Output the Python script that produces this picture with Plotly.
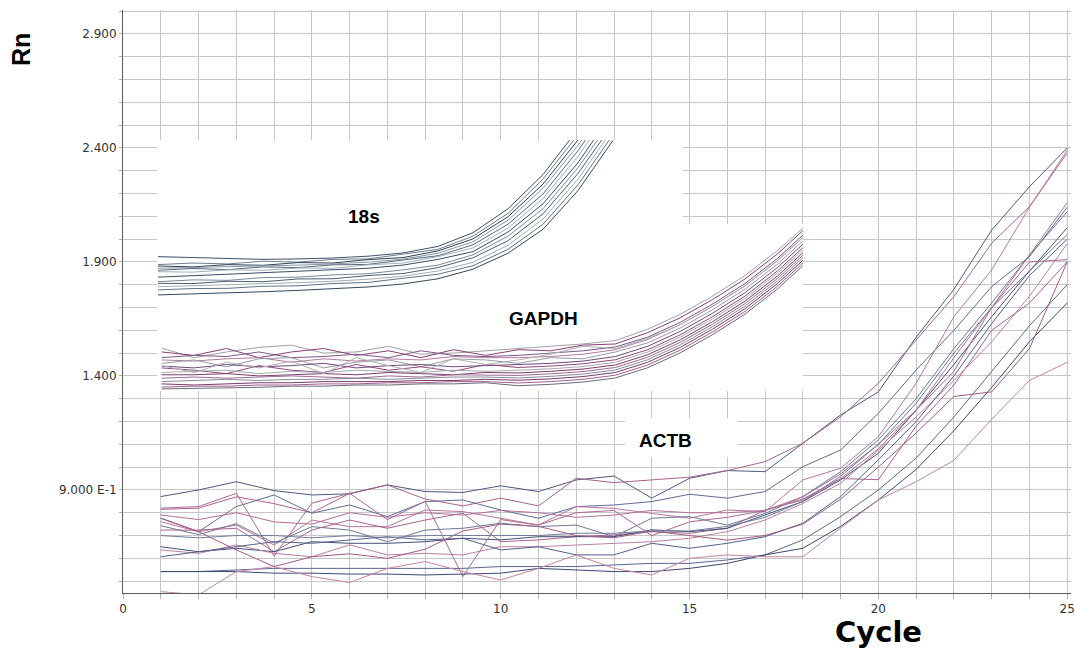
import plotly.graph_objects as go

# ---------------- data ----------------
cycles_actb = list(range(1, 26))
cycles_18s = list(range(1, 15))
cycles_gapdh = list(range(1, 22))

x_tick_labels = ["0", "5", "10", "15", "20", "25"]
y_tick_values = [0.9, 1.4, 1.9, 2.4, 2.9]
y_tick_labels = ["9.000 E-1", "1.400", "1.900", "2.400", "2.900"]

actb_1 = [0.871, 0.900, 0.936, 0.897, 0.878, 0.883, 0.922, 0.893, 0.889, 0.918, 0.893, 0.944, 0.961, 0.864, 0.951, 0.985, 0.980, 1.105, 1.229, 1.330, 1.570, 1.780, 2.040, 2.230, 2.400]
actb_2 = [0.815, 0.820, 0.870, 0.840, 0.800, 0.885, 0.922, 0.860, 0.830, 0.864, 0.830, 0.951, 0.932, 0.944, 0.956, 0.985, 1.024, 1.105, 1.221, 1.368, 1.558, 1.748, 1.982, 2.143, 2.378]
actb_3 = [0.776, 0.717, 0.827, 0.878, 0.798, 0.834, 0.783, 0.849, 0.856, 0.812, 0.776, 0.827, 0.834, 0.849, 0.881, 0.864, 0.893, 1.002, 1.075, 1.236, 1.426, 1.600, 1.792, 1.923, 2.140]
actb_4 = [0.761, 0.717, 0.746, 0.658, 0.768, 0.739, 0.739, 0.812, 0.805, 0.776, 0.746, 0.827, 0.819, 0.797, 0.776, 0.812, 0.805, 0.944, 0.995, 1.134, 1.368, 1.660, 1.865, 2.140, 2.390]
actb_5 = [0.743, 0.704, 0.752, 0.667, 0.739, 0.724, 0.673, 0.724, 0.732, 0.754, 0.739, 0.746, 0.695, 0.776, 0.783, 0.746, 0.797, 0.871, 0.980, 1.120, 1.300, 1.520, 1.720, 1.930, 2.120]
actb_6 = [0.724, 0.724, 0.732, 0.629, 0.724, 0.768, 0.732, 0.768, 0.798, 0.673, 0.681, 0.695, 0.703, 0.717, 0.710, 0.732, 0.812, 0.856, 0.950, 0.945, 1.180, 1.360, 1.600, 1.720, 1.900]
actb_7 = [0.651, 0.629, 0.644, 0.629, 0.673, 0.666, 0.666, 0.673, 0.688, 0.681, 0.695, 0.695, 0.695, 0.725, 0.717, 0.732, 0.790, 0.849, 0.944, 1.061, 1.250, 1.450, 1.660, 1.860, 2.050]
actb_8 = [0.637, 0.622, 0.659, 0.622, 0.607, 0.659, 0.615, 0.622, 0.615, 0.651, 0.651, 0.659, 0.666, 0.673, 0.688, 0.717, 0.768, 0.841, 0.929, 1.075, 1.220, 1.380, 1.550, 1.750, 1.980]
actb_9 = [0.607, 0.629, 0.651, 0.673, 0.666, 0.681, 0.695, 0.681, 0.688, 0.637, 0.651, 0.615, 0.615, 0.666, 0.644, 0.666, 0.695, 0.754, 0.871, 1.032, 1.200, 1.400, 1.630, 1.840, 2.000]
actb_10 = [0.820, 0.827, 0.885, 0.610, 0.842, 0.885, 0.770, 0.850, 0.520, 0.770, 0.746, 0.800, 0.810, 0.700, 0.760, 0.780, 0.810, 0.870, 0.970, 1.100, 1.250, 1.420, 1.700, 1.900, 1.910]
actb_11 = [0.542, 0.542, 0.549, 0.556, 0.556, 0.556, 0.556, 0.556, 0.556, 0.564, 0.564, 0.564, 0.571, 0.578, 0.578, 0.593, 0.615, 0.681, 0.783, 0.900, 1.040, 1.220, 1.420, 1.620, 1.800]
actb_12 = [0.542, 0.542, 0.542, 0.535, 0.535, 0.531, 0.531, 0.527, 0.531, 0.535, 0.556, 0.549, 0.542, 0.542, 0.556, 0.578, 0.615, 0.644, 0.740, 0.856, 0.990, 1.160, 1.350, 1.550, 1.720]
actb_13 = [0.454, 0.440, 0.542, 0.564, 0.520, 0.494, 0.556, 0.586, 0.542, 0.505, 0.556, 0.615, 0.556, 0.527, 0.600, 0.615, 0.607, 0.607, 0.733, 0.856, 0.936, 1.030, 1.210, 1.380, 1.460]
actb_14 = [0.776, 0.717, 0.637, 0.564, 0.607, 0.620, 0.600, 0.640, 0.720, 0.750, 0.740, 0.700, 0.690, 0.720, 0.700, 0.680, 0.700, 0.750, 0.860, 1.000, 1.150, 1.310, 1.330, 1.520, 1.900]
actb_15 = [0.700, 0.690, 0.700, 0.700, 0.690, 0.700, 0.690, 0.700, 0.700, 0.700, 0.700, 0.710, 0.710, 0.720, 0.720, 0.740, 0.780, 0.850, 0.960, 1.100, 1.280, 1.500, 1.700, 1.860, 2.020]
actb_16 = [0.790, 0.770, 0.800, 0.760, 0.750, 0.800, 0.780, 0.800, 0.790, 0.810, 0.800, 0.780, 0.790, 0.810, 0.800, 0.800, 0.810, 0.860, 0.950, 1.080, 1.250, 1.480, 1.700, 1.930, 2.160]

s18_1 = [0.940, 0.935, 0.930, 0.928, 0.930, 0.934, 0.942, 0.956, 0.985, 1.045, 1.150, 1.300, 1.500, 1.720]
s18_2 = [0.905, 0.912, 0.908, 0.920, 0.916, 0.928, 0.930, 0.950, 0.972, 1.030, 1.130, 1.280, 1.475, 1.700]
s18_3 = [0.899, 0.895, 0.905, 0.902, 0.914, 0.912, 0.927, 0.936, 0.965, 1.018, 1.115, 1.258, 1.452, 1.672]
s18_4 = [0.889, 0.892, 0.896, 0.899, 0.903, 0.908, 0.916, 0.929, 0.955, 1.005, 1.100, 1.240, 1.428, 1.650]
s18_5 = [0.880, 0.888, 0.883, 0.895, 0.892, 0.904, 0.906, 0.924, 0.944, 0.992, 1.082, 1.215, 1.405, 1.625]
s18_6 = [0.874, 0.872, 0.882, 0.880, 0.890, 0.889, 0.904, 0.912, 0.940, 0.978, 1.065, 1.195, 1.380, 1.600]
s18_7 = [0.850, 0.856, 0.862, 0.868, 0.874, 0.880, 0.889, 0.903, 0.928, 0.962, 1.048, 1.172, 1.352, 1.575]
s18_8 = [0.830, 0.838, 0.836, 0.848, 0.850, 0.860, 0.865, 0.882, 0.903, 0.948, 1.030, 1.150, 1.330, 1.548]
s18_9 = [0.823, 0.822, 0.832, 0.830, 0.842, 0.843, 0.857, 0.866, 0.892, 0.935, 1.010, 1.128, 1.305, 1.522]
s18_10 = [0.808, 0.812, 0.816, 0.821, 0.826, 0.832, 0.841, 0.854, 0.877, 0.915, 0.990, 1.105, 1.280, 1.500]
s18_11 = [0.794, 0.800, 0.801, 0.810, 0.812, 0.822, 0.827, 0.844, 0.863, 0.900, 0.972, 1.082, 1.255, 1.475]
s18_12 = [0.772, 0.776, 0.781, 0.786, 0.792, 0.798, 0.807, 0.820, 0.843, 0.885, 0.955, 1.060, 1.230, 1.450]

gapdh_1 = [0.947, 0.905, 0.930, 0.950, 0.960, 0.925, 0.930, 0.955, 0.920, 0.925, 0.935, 0.945, 0.955, 0.965, 0.980, 1.030, 1.095, 1.175, 1.265, 1.375, 1.500]
gapdh_2 = [0.930, 0.915, 0.945, 0.905, 0.930, 0.945, 0.915, 0.935, 0.905, 0.940, 0.915, 0.940, 0.935, 0.960, 0.965, 1.015, 1.080, 1.160, 1.250, 1.360, 1.490]
gapdh_3 = [0.905, 0.915, 0.910, 0.930, 0.905, 0.910, 0.920, 0.905, 0.935, 0.915, 0.910, 0.915, 0.925, 0.935, 0.952, 0.995, 1.060, 1.140, 1.230, 1.340, 1.470]
gapdh_4 = [0.895, 0.890, 0.900, 0.905, 0.885, 0.900, 0.890, 0.900, 0.895, 0.910, 0.905, 0.905, 0.910, 0.920, 0.940, 0.985, 1.050, 1.130, 1.220, 1.330, 1.460]
gapdh_5 = [0.880, 0.895, 0.865, 0.900, 0.905, 0.860, 0.885, 0.895, 0.865, 0.900, 0.895, 0.880, 0.905, 0.900, 0.930, 0.970, 1.035, 1.115, 1.205, 1.315, 1.445]
gapdh_6 = [0.868, 0.860, 0.875, 0.865, 0.870, 0.880, 0.860, 0.870, 0.875, 0.865, 0.870, 0.875, 0.880, 0.890, 0.910, 0.955, 1.020, 1.100, 1.190, 1.300, 1.430]
gapdh_7 = [0.860, 0.850, 0.835, 0.870, 0.850, 0.840, 0.875, 0.850, 0.865, 0.845, 0.875, 0.862, 0.868, 0.878, 0.896, 0.940, 1.005, 1.085, 1.175, 1.285, 1.415]
gapdh_8 = [0.840, 0.845, 0.850, 0.835, 0.845, 0.840, 0.850, 0.845, 0.840, 0.850, 0.845, 0.850, 0.856, 0.866, 0.885, 0.930, 0.995, 1.075, 1.165, 1.275, 1.405]
gapdh_9 = [0.830, 0.830, 0.835, 0.825, 0.830, 0.835, 0.830, 0.840, 0.835, 0.830, 0.840, 0.838, 0.845, 0.855, 0.873, 0.918, 0.983, 1.063, 1.153, 1.263, 1.393]
gapdh_10 = [0.815, 0.820, 0.815, 0.820, 0.825, 0.820, 0.815, 0.825, 0.820, 0.830, 0.830, 0.827, 0.834, 0.844, 0.862, 0.907, 0.972, 1.052, 1.142, 1.252, 1.382]
gapdh_11 = [0.800, 0.805, 0.810, 0.805, 0.810, 0.810, 0.815, 0.810, 0.815, 0.820, 0.820, 0.816, 0.823, 0.833, 0.851, 0.896, 0.961, 1.041, 1.131, 1.241, 1.371]
gapdh_12 = [0.790, 0.785, 0.790, 0.795, 0.795, 0.800, 0.800, 0.800, 0.805, 0.805, 0.810, 0.806, 0.812, 0.822, 0.840, 0.885, 0.950, 1.030, 1.120, 1.230, 1.360]
gapdh_13 = [0.776, 0.780, 0.780, 0.785, 0.785, 0.790, 0.790, 0.795, 0.795, 0.800, 0.800, 0.794, 0.800, 0.810, 0.828, 0.873, 0.938, 1.018, 1.108, 1.218, 1.348]
gapdh_14 = [0.768, 0.770, 0.775, 0.775, 0.780, 0.780, 0.785, 0.785, 0.790, 0.790, 0.795, 0.782, 0.788, 0.798, 0.816, 0.861, 0.926, 1.006, 1.096, 1.206, 1.336]
gapdh_15 = [0.870, 0.840, 0.885, 0.860, 0.890, 0.835, 0.905, 0.870, 0.840, 0.900, 0.875, 0.895, 0.920, 0.955, 0.945, 0.990, 1.050, 1.130, 1.220, 1.330, 1.460]

actb_series = [actb_1, actb_2, actb_3, actb_4, actb_5, actb_6, actb_7, actb_8,
               actb_9, actb_10, actb_11, actb_12, actb_13, actb_14, actb_15, actb_16]
s18_series = [s18_1, s18_2, s18_3, s18_4, s18_5, s18_6, s18_7, s18_8, s18_9, s18_10, s18_11, s18_12]
gapdh_series = [gapdh_1, gapdh_2, gapdh_3, gapdh_4, gapdh_5, gapdh_6, gapdh_7, gapdh_8,
                gapdh_9, gapdh_10, gapdh_11, gapdh_12, gapdh_13, gapdh_14, gapdh_15]

# ---------------- styles ----------------
actb_colors = ["#4e5a80", "#ac6290", "#5f6d93", "#b8749c", "#6e7898", "#a8628f", "#434f76", "#bb80a4",
               "#54618a", "#ad6893", "#5b678e", "#3c4870", "#c484a8", "#a25c8a", "#707c9b", "#b4709a"]
s18_colors = ["#3f5266", "#6f7f8e", "#2f4058", "#8b97a3", "#56697c", "#9fb0bc",
              "#3a4d62", "#7a8a96", "#4c5f73", "#a3adb5", "#607385", "#35485e"]
gapdh_colors = ["#a0a0aa", "#8a3f73", "#7b5a88", "#b07aa0", "#9a9aa6", "#6e4a7e", "#8f4a7c",
                "#a8a8b2", "#7d3c6c", "#9b6b93", "#8a8a98", "#753a6a", "#a25d8e", "#6a6a7c", "#b0b0b8"]

W, H = 1075, 648
PL, PR, PT, PB = 123, 1071, 10, 593  # plot area in pixels


def fx(px):
    return (px - PL) / (PR - PL)


def fy(py):
    return (PB - py) / (PB - PT)


fig = go.Figure()

# main plot: ACTB
for ys, c in zip(actb_series, actb_colors):
    fig.add_trace(go.Scatter(x=cycles_actb, y=ys, mode="lines", line=dict(color=c, width=1),
                             xaxis="x", yaxis="y", hoverinfo="skip"))
# inset (drawn first): GAPDH
for ys, c in zip(gapdh_series, gapdh_colors):
    fig.add_trace(go.Scatter(x=cycles_gapdh, y=ys, mode="lines", line=dict(color=c, width=1),
                             xaxis="x2", yaxis="y2", hoverinfo="skip"))
# inset (on top): 18s
for ys, c in zip(s18_series, s18_colors):
    fig.add_trace(go.Scatter(x=cycles_18s, y=ys, mode="lines", line=dict(color=c, width=1),
                             xaxis="x3", yaxis="y3", hoverinfo="skip"))

grid_x = list(range(0, 26))
grid_x_text = [x_tick_labels[i // 5] if i % 5 == 0 else "" for i in grid_x]
grid_y = [round(0.5 + 0.1 * i, 1) for i in range(26)]
grid_y_text = [y_tick_labels[y_tick_values.index(v)] if v in y_tick_values else "" for v in grid_y]

tick_font = dict(family="DejaVu Sans", size=12, color="#333333")

fig.update_layout(
    width=W, height=H,
    margin=dict(l=PL, r=W - PR, t=PT, b=H - PB),
    paper_bgcolor="white", plot_bgcolor="white",
    showlegend=False,
    xaxis=dict(domain=[0, 1], range=[0, 25.1], tickmode="array", tickvals=grid_x, ticktext=grid_x_text,
               showgrid=True, gridcolor="#c6c6c6", gridwidth=1, zeroline=False,
               showline=True, linecolor="#5a5a5a", linewidth=1,
               ticks="outside", ticklen=5, tickcolor="#b0b0b0", tickfont=tick_font,
               automargin=False, fixedrange=True),
    yaxis=dict(domain=[0, 1], range=[0.448, 3.005], tickmode="array", tickvals=grid_y, ticktext=grid_y_text,
               showgrid=True, gridcolor="#c6c6c6", gridwidth=1, zeroline=False,
               showline=True, linecolor="#5a5a5a", linewidth=1,
               ticks="outside", ticklen=3, tickcolor="#b0b0b0", tickfont=tick_font,
               automargin=False, fixedrange=True),
    # GAPDH inset
    xaxis2=dict(domain=[fx(157), fx(803)], range=[0.855, 20.79], visible=False, anchor="y2", fixedrange=True),
    yaxis2=dict(domain=[fy(391), fy(224)], range=[0.7588, 1.4912], visible=False, anchor="x2", fixedrange=True),
    # 18s inset
    xaxis3=dict(domain=[fx(157), fx(683)], range=[0.971, 16.0], visible=False, anchor="y3", fixedrange=True),
    yaxis3=dict(domain=[fy(302), fy(140)], range=[0.741, 1.4518], visible=False, anchor="x3", fixedrange=True),
)

# white box behind the ACTB label
fig.add_shape(type="rect", xref="paper", yref="paper", x0=fx(625), x1=fx(738), y0=fy(457), y1=fy(418),
              fillcolor="white", line=dict(width=0), layer="above")

label_font = dict(family="Liberation Sans, Arial, sans-serif", size=19, color="black")
for txt, px, py in [("<b>18s</b>", 364, 216), ("<b>GAPDH</b>", 543, 318), ("<b>ACTB</b>", 665, 440)]:
    fig.add_annotation(text=txt, xref="paper", yref="paper", x=fx(px), y=fy(py),
                       xanchor="center", yanchor="middle", showarrow=False, font=label_font)

fig.add_annotation(text="<b>Rn</b>", xref="paper", yref="paper", x=fx(21), y=fy(50), textangle=-90,
                   xanchor="center", yanchor="middle", showarrow=False,
                   font=dict(family="Liberation Sans, Arial, sans-serif", size=25, color="black"))
fig.add_annotation(text="<b>Cycle</b>", xref="paper", yref="paper", x=fx(878), y=fy(632),
                   xanchor="center", yanchor="middle", showarrow=False,
                   font=dict(family="DejaVu Sans, sans-serif", size=29, color="black"))

fig.write_html("out.html", config={"displayModeBar": False},
               post_script="document.body.style.margin='0px';")
